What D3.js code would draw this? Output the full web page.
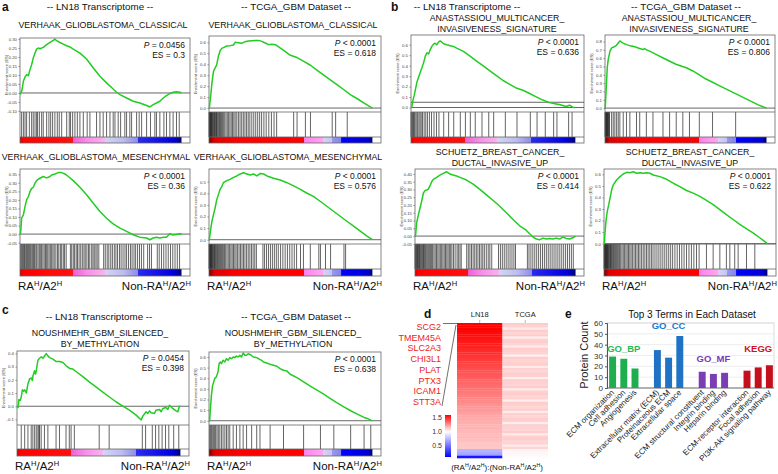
<!DOCTYPE html>
<html><head><meta charset="utf-8">
<script src="https://cdn.jsdelivr.net/npm/d3@7"></script>
<style>body{margin:0;background:#fff}svg{font-family:'Liberation Sans',Arial,sans-serif}</style>
</head><body><svg id="chart" width="778" height="474"></svg>
<script>
// ---------------- DATA ----------------
const geneSetNames = [
  ["VERHAAK_GLIOBLASTOMA_CLASSICAL"], ["VERHAAK_GLIOBLASTOMA_CLASSICAL"],
  ["VERHAAK_GLIOBLASTOMA_MESENCHYMAL"], ["VERHAAK_GLIOBLASTOMA_MESENCHYMAL"],
  ["ANASTASSIOU_MULTICANCER_","INVASIVENESS_SIGNATURE"], ["ANASTASSIOU_MULTICANCER_","INVASIVENESS_SIGNATURE"],
  ["SCHUETZ_BREAST_CANCER_","DUCTAL_INVASIVE_UP"], ["SCHUETZ_BREAST_CANCER_","DUCTAL_INVASIVE_UP"],
  ["NOUSHMEHR_GBM_SILENCED_","BY_METHYLATION"], ["NOUSHMEHR_GBM_SILENCED_","BY_METHYLATION"]
];
const datasets = ["LN18","TCGA","LN18","TCGA","LN18","TCGA","LN18","TCGA","LN18","TCGA"];
const pTexts = ["= 0.0456","< 0.0001","< 0.0001","< 0.0001","< 0.0001","< 0.0001","< 0.0001","< 0.0001","= 0.0454","< 0.0001"];
const esTexts = ["0.3","0.618","0.36","0.576","0.636","0.806","0.414","0.622","0.398","0.638"];
const yDomains = [[-0.106,0.306],[-0.036,0.658],[-0.058,0.381],[-0.037,0.609],[-0.043,0.693],[-0.047,0.878],[-0.051,0.432],[-0.003,0.646],[-0.142,0.418],[-0.04,0.647]];
const yTickLists = [
  [-0.10,-0.05,0,0.05,0.10,0.15,0.20,0.25,0.30],[0,0.1,0.2,0.3,0.4,0.5,0.6],
  [-0.05,0,0.05,0.10,0.15,0.20,0.25,0.30,0.35],[0,0.1,0.2,0.3,0.4,0.5],
  [0,0.1,0.2,0.3,0.4,0.5,0.6],[0,0.1,0.2,0.3,0.4,0.5,0.6,0.7,0.8],
  [-0.05,0,0.05,0.10,0.15,0.20,0.25,0.30,0.35,0.40],[0,0.1,0.2,0.3,0.4,0.5,0.6],
  [-0.1,0,0.1,0.2,0.3,0.4],[0,0.1,0.2,0.3,0.4,0.5,0.6]
];
const yTickDecimals = [2,1,2,1,1,1,2,1,1,1];
const extraRefLines = [[],[],[],[],[0.05],[],[],[],[],[]];

const esA1 = [[0,0],[0.004,-0.005],[0.012,0.015],[0.021,0.065],[0.031,0.089],[0.041,0.102],[0.052,0.096],[0.062,0.13],[0.072,0.157],[0.082,0.194],[0.093,0.222],[0.103,0.244],[0.113,0.25],[0.124,0.246],[0.144,0.254],[0.165,0.269],[0.186,0.281],[0.206,0.293],[0.216,0.3],[0.227,0.291],[0.247,0.281],[0.268,0.272],[0.289,0.263],[0.309,0.256],[0.33,0.244],[0.371,0.222],[0.412,0.189],[0.454,0.139],[0.495,0.093],[0.536,0.056],[0.577,0.022],[0.598,0.004],[0.619,-0.009],[0.66,-0.028],[0.701,-0.046],[0.742,-0.056],[0.784,-0.07],[0.804,-0.078],[0.825,-0.065],[0.845,-0.056],[0.866,-0.046],[0.887,-0.028],[0.907,-0.015],[0.928,-0.004],[0.948,0.004],[0.969,0.007],[0.99,0.004],[1,0]];
const esA2 = [[0,0],[0.002,0],[0.01,0.106],[0.018,0.227],[0.027,0.333],[0.037,0.364],[0.047,0.394],[0.057,0.47],[0.068,0.524],[0.078,0.545],[0.088,0.552],[0.109,0.567],[0.129,0.57],[0.15,0.576],[0.16,0.6],[0.18,0.597],[0.2,0.591],[0.221,0.606],[0.242,0.612],[0.262,0.615],[0.283,0.618],[0.303,0.618],[0.324,0.609],[0.344,0.594],[0.365,0.579],[0.385,0.582],[0.406,0.579],[0.426,0.558],[0.457,0.527],[0.498,0.482],[0.539,0.461],[0.58,0.427],[0.621,0.391],[0.662,0.345],[0.703,0.3],[0.744,0.255],[0.785,0.212],[0.826,0.167],[0.867,0.121],[0.908,0.085],[0.949,0.045],[1,0]];
const esA3 = [[0,0],[0.004,0.006],[0.01,0.093],[0.021,0.113],[0.031,0.161],[0.041,0.2],[0.052,0.22],[0.062,0.249],[0.072,0.268],[0.082,0.274],[0.093,0.298],[0.103,0.313],[0.113,0.321],[0.124,0.327],[0.144,0.337],[0.165,0.329],[0.186,0.337],[0.196,0.346],[0.216,0.352],[0.237,0.36],[0.258,0.36],[0.278,0.352],[0.299,0.337],[0.33,0.313],[0.371,0.274],[0.412,0.23],[0.454,0.181],[0.495,0.132],[0.536,0.093],[0.577,0.06],[0.619,0.035],[0.66,0.016],[0.701,-0.004],[0.742,-0.018],[0.784,-0.023],[0.804,-0.033],[0.825,-0.023],[0.845,-0.018],[0.866,-0.023],[0.887,-0.018],[0.907,-0.019],[0.928,0.002],[0.948,-0.006],[0.969,-0.002],[0.99,0.002],[1,0]];
const esA4 = [[0,0],[0.002,0],[0.01,0.086],[0.018,0.157],[0.027,0.214],[0.037,0.271],[0.047,0.343],[0.057,0.386],[0.068,0.434],[0.078,0.457],[0.088,0.491],[0.109,0.509],[0.129,0.52],[0.15,0.537],[0.17,0.549],[0.191,0.566],[0.211,0.576],[0.232,0.566],[0.252,0.557],[0.273,0.566],[0.293,0.549],[0.314,0.571],[0.334,0.566],[0.355,0.549],[0.395,0.529],[0.436,0.514],[0.477,0.491],[0.518,0.463],[0.559,0.434],[0.6,0.4],[0.641,0.371],[0.682,0.329],[0.723,0.286],[0.764,0.243],[0.805,0.2],[0.846,0.157],[0.887,0.114],[0.928,0.071],[0.969,0.029],[1,0]];
const esB1 = [[0,0],[0.004,0],[0.012,0.071],[0.02,0.118],[0.028,0.18],[0.036,0.242],[0.046,0.289],[0.056,0.335],[0.067,0.382],[0.077,0.429],[0.087,0.491],[0.097,0.522],[0.107,0.512],[0.117,0.553],[0.127,0.584],[0.137,0.606],[0.147,0.615],[0.157,0.599],[0.167,0.624],[0.177,0.636],[0.188,0.624],[0.198,0.609],[0.218,0.599],[0.238,0.59],[0.258,0.584],[0.278,0.568],[0.319,0.537],[0.359,0.491],[0.399,0.444],[0.44,0.398],[0.48,0.351],[0.52,0.304],[0.56,0.258],[0.601,0.221],[0.641,0.186],[0.681,0.165],[0.722,0.134],[0.762,0.102],[0.802,0.071],[0.843,0.047],[0.883,0.034],[0.903,0.028],[0.923,0.019],[0.944,0.009],[0.964,0.022],[0.984,0.003],[1,0]];
const esB2 = [[0,0],[0.002,0.02],[0.006,0.176],[0.01,0.332],[0.014,0.488],[0.02,0.586],[0.031,0.684],[0.041,0.723],[0.051,0.73],[0.061,0.742],[0.071,0.754],[0.082,0.781],[0.092,0.806],[0.102,0.793],[0.112,0.781],[0.133,0.762],[0.153,0.75],[0.173,0.742],[0.194,0.73],[0.214,0.715],[0.235,0.703],[0.245,0.715],[0.255,0.703],[0.276,0.684],[0.316,0.645],[0.357,0.605],[0.398,0.566],[0.439,0.527],[0.48,0.5],[0.5,0.488],[0.541,0.449],[0.582,0.402],[0.622,0.352],[0.663,0.313],[0.704,0.273],[0.745,0.234],[0.786,0.195],[0.827,0.156],[0.867,0.117],[0.908,0.078],[0.949,0.039],[1,0]];
const esB3 = [[0,0],[0.004,0.009],[0.01,0.083],[0.021,0.137],[0.031,0.179],[0.041,0.222],[0.052,0.276],[0.062,0.293],[0.072,0.297],[0.083,0.302],[0.093,0.323],[0.104,0.35],[0.114,0.365],[0.135,0.378],[0.155,0.393],[0.176,0.404],[0.197,0.414],[0.217,0.4],[0.238,0.393],[0.259,0.387],[0.28,0.378],[0.321,0.361],[0.362,0.335],[0.404,0.301],[0.445,0.265],[0.487,0.229],[0.528,0.192],[0.569,0.15],[0.611,0.107],[0.652,0.066],[0.694,0.036],[0.714,0.015],[0.735,-0.006],[0.756,-0.019],[0.776,-0.024],[0.797,-0.013],[0.818,-0.019],[0.839,-0.015],[0.859,-0.019],[0.88,-0.013],[0.901,-0.019],[0.921,-0.006],[0.942,-0.015],[0.963,-0.019],[0.983,-0.011],[1,0]];
const esB4 = [[0,0],[0.002,0],[0.006,0.094],[0.012,0.194],[0.02,0.28],[0.029,0.337],[0.037,0.394],[0.047,0.466],[0.057,0.509],[0.077,0.551],[0.098,0.58],[0.118,0.603],[0.138,0.617],[0.159,0.614],[0.179,0.622],[0.2,0.609],[0.22,0.614],[0.24,0.609],[0.261,0.614],[0.281,0.609],[0.301,0.594],[0.342,0.58],[0.383,0.557],[0.424,0.523],[0.464,0.494],[0.505,0.46],[0.546,0.437],[0.587,0.409],[0.627,0.374],[0.668,0.337],[0.709,0.294],[0.749,0.251],[0.79,0.209],[0.831,0.166],[0.871,0.131],[0.912,0.094],[0.953,0.051],[1,0]];
const esC1 = [[0,0],[0.006,-0.01],[0.012,0.05],[0.02,0.045],[0.026,0.07],[0.033,0.124],[0.041,0.114],[0.047,0.124],[0.057,0.1],[0.067,0.169],[0.077,0.206],[0.088,0.214],[0.094,0.194],[0.098,0.231],[0.108,0.269],[0.114,0.244],[0.118,0.269],[0.128,0.348],[0.138,0.363],[0.149,0.373],[0.159,0.363],[0.169,0.381],[0.179,0.398],[0.189,0.381],[0.2,0.368],[0.22,0.356],[0.24,0.338],[0.261,0.338],[0.281,0.331],[0.301,0.306],[0.322,0.286],[0.342,0.281],[0.363,0.261],[0.403,0.224],[0.444,0.182],[0.485,0.144],[0.525,0.107],[0.566,0.07],[0.607,0.032],[0.648,0],[0.688,-0.03],[0.729,-0.067],[0.76,-0.104],[0.77,-0.075],[0.79,-0.042],[0.8,-0.055],[0.811,-0.035],[0.821,-0.05],[0.841,-0.055],[0.851,-0.03],[0.872,-0.025],[0.882,-0.042],[0.892,-0.017],[0.912,-0.01],[0.923,-0.025],[0.933,0.007],[0.953,-0.017],[0.974,-0.035],[0.984,-0.042],[0.994,0],[1,0]];
const esC2 = [[0,0],[0.004,0],[0.008,0.1],[0.014,0.225],[0.021,0.325],[0.029,0.366],[0.035,0.397],[0.045,0.413],[0.055,0.459],[0.062,0.538],[0.07,0.553],[0.076,0.538],[0.086,0.569],[0.097,0.553],[0.107,0.584],[0.117,0.569],[0.127,0.594],[0.138,0.584],[0.148,0.6],[0.158,0.594],[0.168,0.609],[0.179,0.6],[0.189,0.616],[0.199,0.6],[0.209,0.638],[0.22,0.616],[0.23,0.616],[0.24,0.631],[0.251,0.625],[0.271,0.6],[0.292,0.594],[0.312,0.575],[0.322,0.569],[0.333,0.553],[0.353,0.544],[0.374,0.531],[0.394,0.522],[0.415,0.513],[0.435,0.491],[0.456,0.475],[0.476,0.469],[0.497,0.438],[0.538,0.406],[0.579,0.366],[0.62,0.325],[0.661,0.288],[0.702,0.25],[0.743,0.209],[0.784,0.169],[0.825,0.131],[0.867,0.094],[0.908,0.063],[0.949,0.031],[0.969,0.022],[0.99,0.006],[1,0]];

// hit positions, per mille of the ranked gene list
const hitsA1 = [10,21,31,41,58,72,82,93,103,109,120,134,144,165,179,190,202,216,231,243,258,289,305,313,326,340,355,371,392,416,433,474,495,515,536,557,577,588,608,623,649,660,680,691,722,738,753,784,808,835,845,866,891,907,928,948,969,986];
const hitsA2 = [0,3,6,9,12,15,18,22,26,30,34,38,42,46,50,55,60,65,70,76,82,88,96,104,112,120,128,136,144,152,160,170,180,190,200,210,220,230,240,250,262,274,286,298,310,322,336,350,366,382,398,414,518,539,590,621,754,775,846];
const hitsA3 = [4,10,16,22,28,33,40,46,52,58,64,70,78,84,90,98,104,112,120,128,134,142,150,158,165,172,180,188,196,204,212,222,232,240,250,258,268,276,286,312,320,330,338,348,356,366,376,386,396,404,414,424,432,444,452,460,470,478,488,518,528,540,550,562,572,584,594,604,616,626,638,650,660,672,684,694,706,716,728,740,752,766,790,802,814,850,862,876,890,904,918,932,946,960,974,988];
const hitsA4 = [0,3,6,9,12,15,18,22,26,30,34,38,42,47,52,58,64,70,76,82,88,95,102,110,118,126,134,142,150,158,166,175,184,193,202,211,220,230,240,250,260,270,280,290,330,340,352,364,376,388,400,412,424,438,452,466,480,494,508,522,536,560,578,620,672,682,713,744,826,836];
const hitsB1 = [0,5,10,15,20,25,32,40,48,55,62,70,80,90,100,112,125,140,155,170,199,229,260,300,331,361,391,432,473,503,574,645,726,767,817,868,888,959,980];
const hitsB2 = [0,3,6,9,12,15,18,21,25,28,41,51,61,72,82,92,113,133,154,195,215,256,297,359,400,441,482,523,584,666,809];
const hitsB3 = [0,4,8,12,16,20,24,28,33,38,43,48,53,58,63,68,74,80,86,92,98,104,110,118,126,134,142,150,158,166,174,182,190,198,206,214,222,230,240,250,262,270,280,288,322,332,342,352,362,372,382,392,402,412,422,432,444,456,466,478,520,532,544,556,568,580,592,604,616,626,700,710,722,734,746,758,770,782,794,806,818,830,842,854,866,878,890,902,914,926,938,950,962,974,986];
const hitsB4 = [0,3,6,9,12,15,18,21,24,28,32,36,40,44,48,53,58,64,70,76,82,88,95,102,110,118,126,134,142,150,158,166,175,184,193,202,211,220,230,240,250,260,270,280,290,300,312,324,336,348,360,372,384,396,408,420,434,448,462,476,490,505,520,535,550,566,582,627,668,709,749,770,800,821,872,923];
const hitsC1 = [26,47,67,87,97,108,118,128,134,138,148,168,189,239,260,300,320,331,351,503,564,767,787,828,848,868,888,909,929,959,990];
const hitsC2 = [4,10,16,23,29,35,41,49,57,66,76,86,97,107,117,127,148,168,189,209,230,261,292,312,374,456,579,682,764,867,949,990];

const esCurves = [esA1,esA2,esA3,esA4,esB1,esB2,esB3,esB4,esC1,esC2];
const hitLists = [hitsA1,hitsA2,hitsA3,hitsA4,hitsB1,hitsB2,hitsB3,hitsB4,hitsC1,hitsC2];

// ranked-list colour bars (position along list, colour)
const rankColorsLN18 = [[0,'#d00000'],[0.02,'#ff0000'],[0.33,'#ff1010'],[0.331,'#f060d8'],[0.42,'#f890e8'],[0.525,'#f8b4ee'],[0.526,'#d4d4f4'],[0.64,'#bcbcf0'],[0.73,'#8c8cea'],[0.731,'#2a2af0'],[0.95,'#0000dd'],[1,'#000070']];
const rankColorsTCGA = [[0,'#700000'],[0.03,'#e00000'],[0.2,'#ff0000'],[0.58,'#ff0000'],[0.581,'#ff80ee'],[0.70,'#ffa8f0'],[0.701,'#d4d4f6'],[0.754,'#c4c4f2'],[0.755,'#9898ee'],[0.81,'#8484ea'],[0.811,'#0000ff'],[0.975,'#0000d0'],[1,'#000060']];

const panelTitles = ["-- LN18 Transcriptome --","-- TCGA_GBM Dataset --"];

// panel d
const heatGenes = ["SCG2","TMEM45A","SLC2A3","CHI3L1","PLAT","PTX3","ICAM1","STT3A"];
const heatColumns = ["LN18","TCGA"];
const ratioLN18 = [1.62,1.61,1.60,1.59,1.58,1.57,1.56,1.55,1.54,1.53,1.52,1.51,1.50,1.49,1.48,1.47,1.46,1.45,1.44,1.43,1.42,1.41,1.40,1.39,1.38,1.37,1.36,1.35,1.34,1.33,1.32,1.31,1.30,1.29,1.28,1.27,1.26,1.25,1.24,1.23,1.22,1.21,1.20,1.19,1.19,1.18,1.18,1.17,1.17,1.16,1.16,1.15,1.15,1.14,1.14,1.13,0.74,0.70,0.66,0.18];
const ratioTCGA = [1.12,1.11,1.05,1.12,1.10,1.12,1.04,1.11,1.12,1.10,1.05,1.12,1.11,1.11,1.04,1.12,1.10,1.11,1.12,1.05,1.11,1.10,1.12,1.11,1.04,1.12,1.11,1.10,1.12,1.05,1.11,1.12,1.10,1.11,1.04,1.12,1.11,1.10,1.12,1.05,1.11,1.10,1.12,1.11,1.04,1.12,1.11,1.10,1.12,1.05,1.11,1.12,1.10,1.11,1.05,1.10,1.03,1.02,1.02,1.01];
const legendTicks = [0.5,1.0,1.5];

// panel e
const termGroups = ["GO_BP","GO_CC","GO_MF","KEGG"];
const terms = ["ECM organization","Cell adhesion","Angiogenesis","Extracellular matrix (ECM)","Proteinaceous ECM","Extracellular space","ECM structural constituent","Integrin binding","Heparin binding","ECM-receptor interaction","Focal adhesion","PI3K-Akt signaling pathway"];
const proteinCounts = [29,27,18,35,28,48,15,13,14,16,19,21];
const countTicks = [0,10,20,30,40,50,60];

// ---------------- DRAWING ----------------
const svg = d3.select('#chart');
const defs = svg.append('defs');
function grad(id, stops, vertical){
  const g = defs.append('linearGradient').attr('id', id);
  if (vertical) g.attr('x1',0).attr('y1',1).attr('x2',0).attr('y2',0);
  g.selectAll('stop').data(stops).join('stop').attr('offset', d=>d[0]).attr('stop-color', d=>d[1]);
}
grad('rank-LN18', rankColorsLN18);
grad('rank-TCGA', rankColorsTCGA);

function text(g, x, y, t, o={}){
  const el = g.append('text').attr('x',x).attr('y',y).text(t)
    .attr('font-size', o.size||10).attr('fill', o.fill||'#111')
    .attr('text-anchor', o.anchor||'start');
  if (o.weight) el.attr('font-weight', o.weight);
  return el;
}
function supLabel(g, x, y, parts, size, anchor){
  const t = g.append('text').attr('x',x).attr('y',y).attr('font-size',size).attr('fill','#111').attr('text-anchor',anchor);
  let up = false;
  parts.forEach(([s,sup])=>{
    const ts = t.append('tspan').text(s);
    if (sup && !up){ ts.attr('dy', -size*0.38).attr('font-size', size*0.66); up = true; }
    else if (sup) { ts.attr('font-size', size*0.66); }
    else if (!sup && up){ ts.attr('dy', size*0.38); up = false; }
  });
  return t;
}
const raParts = [["RA",0],["H",1],["/A2",0],["H",1]];
const nonRaParts = [["Non-RA",0],["H",1],["/A2",0],["H",1]];

// layout of the ten GSEA plots
const layout = [
  {x0:20, x1:190, top:38, esB:112, hitsB:137, bot:143, subX:103, subY:28, ra:false},
  {x0:209, x1:381, top:36, esB:112, hitsB:137, bot:143, subX:293, subY:28, ra:false},
  {x0:20, x1:190, top:169, esB:244, hitsB:269, bot:276, subX:96, subY:160, ra:true},
  {x0:209, x1:381, top:169, esB:244, hitsB:269, bot:276, subX:288, subY:160, ra:true},
  {x0:411, x1:584, top:35, esB:112, hitsB:137, bot:143, subX:497, subY:21, ra:false},
  {x0:605, x1:775, top:35, esB:112, hitsB:137, bot:143, subX:689, subY:21, ra:false},
  {x0:415, x1:584, top:169, esB:244, hitsB:269, bot:276, subX:500, subY:155, ra:true},
  {x0:604, x1:776, top:169, esB:244, hitsB:269, bot:276, subX:690, subY:155, ra:true},
  {x0:17, x1:189, top:351, esB:425, hitsB:449, bot:456, subX:100, subY:336, ra:true},
  {x0:209, x1:381, top:352, esB:425, hitsB:449, bot:456, subX:293, subY:336, ra:true}
];

layout.forEach((L, i) => {
  const g = svg.append('g');
  const W = L.x1 - L.x0;
  const x = d3.scaleLinear().domain([0,1]).range([L.x0, L.x0 + 0.95*W]);
  const y = d3.scaleLinear().domain(yDomains[i]).range([L.esB, L.top]);
  g.append('g').selectAll('line').data(hitLists[i]).join('line')
    .attr('x1', d=>x(d/1000)).attr('x2', d=>x(d/1000))
    .attr('y1', L.esB).attr('y2', L.hitsB)
    .attr('stroke','#000').attr('stroke-width',0.9).attr('stroke-opacity',0.68);
  g.append('rect').attr('x', x(0)).attr('y', L.hitsB).attr('width', x(1)-x(0)).attr('height', L.bot-L.hitsB)
    .attr('fill', `url(#rank-${datasets[i]})`);
  g.append('rect').attr('x',L.x0).attr('y',L.top).attr('width',W).attr('height',L.bot-L.top)
    .attr('fill','none').attr('stroke','#666').attr('stroke-width',0.8);
  [L.esB, L.hitsB].forEach(v => g.append('line').attr('x1',L.x0).attr('x2',L.x1).attr('y1',v).attr('y2',v)
    .attr('stroke','#666').attr('stroke-width',0.8));
  [0, ...extraRefLines[i]].forEach(v => g.append('line').attr('x1',L.x0).attr('x2',L.x1).attr('y1',y(v)).attr('y2',y(v))
    .attr('stroke','#555').attr('stroke-width',0.9));
  const dec = yTickDecimals[i];
  g.append('g').attr('transform',`translate(${L.x0},0)`)
    .call(d3.axisLeft(y).tickValues(yTickLists[i]).tickFormat(v=>v.toFixed(dec)).tickSize(1.5).tickPadding(1.5))
    .call(s=>s.select('.domain').remove())
    .call(s=>s.selectAll('line').attr('stroke','#888'))
    .call(s=>s.selectAll('text').attr('font-size',4.3).attr('fill','#444').attr('font-family',"'Liberation Sans',Arial,sans-serif"));
  g.append('text').attr('transform',`translate(${L.x0-12},${(L.top+L.esB)/2}) rotate(-90)`)
    .attr('text-anchor','middle').attr('font-size',4).attr('fill','#444').text('Enrichment score (ES)');
  g.append('path').datum(esCurves[i])
    .attr('d', d3.line().x(d=>x(d[0])).y(d=>y(d[1])))
    .attr('fill','none').attr('stroke','#22cc22').attr('stroke-width',1.5).attr('stroke-linejoin','round');
  const pt = g.append('text').attr('x', L.x1-5).attr('y', L.top+10).attr('text-anchor','end').attr('font-size',8.5).attr('fill','#111');
  pt.append('tspan').attr('font-style','italic').text('P');
  pt.append('tspan').text(' ' + pTexts[i]);
  text(g, L.x1-5, L.top+20, 'ES = ' + esTexts[i], {size:8.5, anchor:'end'});
  geneSetNames[i].forEach((line, k) => text(g, L.subX, L.subY + k*10.5, line, {size:8.8, anchor:'middle'}));
  if (L.ra) {
    supLabel(g, L.x0-2, L.bot+14, raParts, 11.5, 'start');
    supLabel(g, L.x1+1, L.bot+14, nonRaParts, 11.5, 'end');
  }
});

const titleSpots = [[100,10,0],[296,10,1],[467,10,0],[686,10,1],[99,320,0],[296,320,1]];
titleSpots.forEach(([tx,ty,k]) => text(svg, tx, ty, panelTitles[k], {size:9.8, anchor:'middle'}));
[['a',2,11],['b',391,11],['c',2,314],['d',424,318],['e',565,318]].forEach(([t,lx,ly]) =>
  text(svg, lx, ly, t, {size:12, weight:'bold'}));

// ---------------- panel d: heatmap ----------------
(function(){
  const g = svg.append('g');
  const X0=457, X1=548, Y0=323, Y1=458;
  const xb = d3.scaleBand().domain(heatColumns).range([X0,X1]);
  const yb = d3.scaleBand().domain(d3.range(ratioLN18.length)).range([Y0,Y1]);
  const color = d3.scaleLinear().domain([0.1,1,1.6]).range(['#0000ff','#ffffff','#ff0000']).clamp(true);
  [ratioLN18, ratioTCGA].forEach((vals, c) => {
    g.append('g').selectAll('rect').data(vals).join('rect')
      .attr('x', xb(heatColumns[c])).attr('width', xb.bandwidth())
      .attr('y', (d,j)=>yb(j)).attr('height', yb.bandwidth()+0.3)
      .attr('fill', d=>color(d));
  });
  heatColumns.forEach(c => {
    const cx = xb(c)+xb.bandwidth()/2;
    text(g, cx, 317, c, {size:7.5, anchor:'middle', fill:'#222'});
    g.append('line').attr('x1',cx).attr('x2',cx).attr('y1',320).attr('y2',Y0).attr('stroke','#888').attr('stroke-width',0.6);
  });
  heatGenes.forEach((gname, k) => text(g, 441, 330 + k*10.7, gname, {size:9, anchor:'end', fill:'#ee1c1c'}));
  g.append('line').attr('x1',443).attr('x2',X0).attr('y1',Y0+0.5).attr('y2',Y0+0.5).attr('stroke','#333').attr('stroke-width',0.7);
  g.append('line').attr('x1',442).attr('x2',X0-1).attr('y1',406).attr('y2',Y0+2).attr('stroke','#333').attr('stroke-width',0.7);
  const ly = d3.scaleLinear().domain([0.1,1.6]).range([457,415]);
  grad('heat-legend', d3.range(0,1.0001,0.1).map(t => [t, color(0.1 + t*1.5)]), true);
  g.append('rect').attr('x',445).attr('y',ly(1.6)).attr('width',6).attr('height',ly(0.1)-ly(1.6)).attr('fill','url(#heat-legend)');
  legendTicks.forEach(v => text(g, 442, ly(v)+2.5, v.toFixed(1), {size:7, anchor:'end', fill:'#333'}));
  supLabel(g, 497, 470, [["(RA",0],["H",1],["/A2",0],["H",1],["):(Non-RA",0],["H",1],["/A2",0],["H",1],[")",0]], 8, 'middle');
})();

// ---------------- panel e: bar chart ----------------
(function(){
  const g = svg.append('g');
  const groupColors = ['#1eae50','#1f72c4','#7a3db4','#c4101c'];
  const labelColors = ['#22bb55','#1a7ad2','#7a3ab8','#d41020'];
  const slots = [];
  terms.forEach((t,k) => { slots.push(t); if (k%3===2 && k<terms.length-1) slots.push('gap'+k); });
  const x = d3.scaleBand().domain(slots).range([607,775]).paddingInner(0.38).paddingOuter(0.19);
  const y = d3.scaleLinear().domain([0,60]).range([388,323]);
  g.append('g').selectAll('line').data(countTicks.slice(1)).join('line')
    .attr('x1',607).attr('x2',774).attr('y1',d=>y(d)).attr('y2',d=>y(d)).attr('stroke','#e2e2e2').attr('stroke-width',0.6);
  g.append('rect').attr('x',607).attr('y',y(60)).attr('width',167).attr('height',y(0)-y(60)).attr('fill','none').attr('stroke','#cfcfcf').attr('stroke-width',0.7);
  g.append('g').attr('transform','translate(607,0)')
    .call(d3.axisLeft(y).tickValues(countTicks).tickSize(2).tickPadding(2))
    .call(s=>s.selectAll('text').attr('font-size',8).attr('fill','#333').attr('font-family',"'Liberation Sans',Arial,sans-serif"))
    .call(s=>s.selectAll('line,path').attr('stroke','#555'));
  g.append('line').attr('x1',607).attr('x2',774).attr('y1',y(0)).attr('y2',y(0)).attr('stroke','#555').attr('stroke-width',0.8);
  g.append('g').selectAll('rect').data(terms).join('rect')
    .attr('x', d=>x(d)).attr('width', x.bandwidth())
    .attr('y', (d,k)=>y(proteinCounts[k])).attr('height', (d,k)=>y(0)-y(proteinCounts[k]))
    .attr('fill', (d,k)=>groupColors[Math.floor(k/3)]);
  terms.forEach(t => {
    const cx = x(t) + x.bandwidth()/2 + 2;
    g.append('text').attr('transform',`translate(${cx},393) rotate(-45)`).attr('text-anchor','end')
      .attr('font-size',8).attr('fill','#222').text(t);
  });
  const labelLift = [5,7,10,13];
  termGroups.forEach((gr, k) => {
    const members = terms.slice(k*3, k*3+3);
    const cx = (x(members[0]) + x(members[2]) + x.bandwidth())/2;
    const top = d3.max(proteinCounts.slice(k*3, k*3+3));
    text(g, cx, y(top) - labelLift[k], gr, {size:9.5, weight:'bold', anchor:'middle', fill:labelColors[k]});
  });
  g.append('text').attr('transform','translate(588,355) rotate(-90)').attr('text-anchor','middle')
    .attr('font-size',11).attr('fill','#222').text('Protein Count');
  text(g, 692, 318, 'Top 3 Terms in Each Dataset', {size:10, anchor:'middle'});
})();
</script>
</body></html>
